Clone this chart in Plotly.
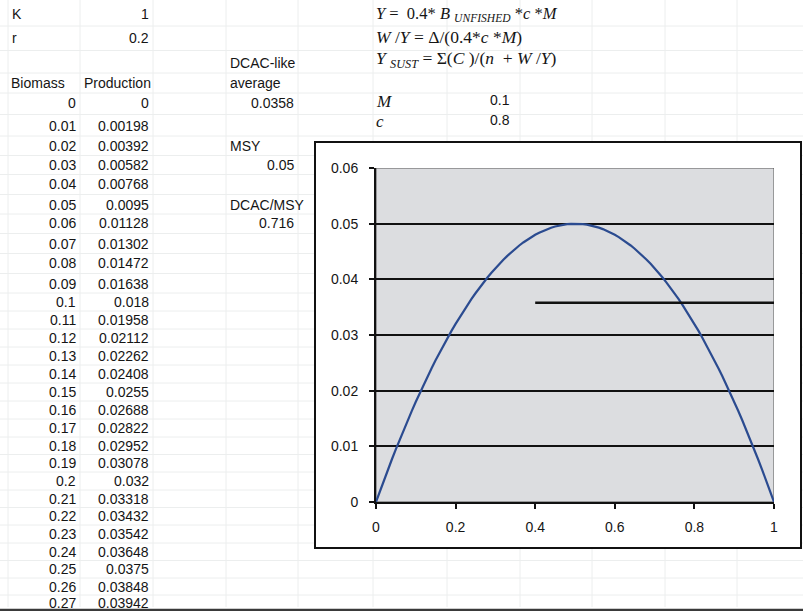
import plotly.graph_objects as go

W, H = 803, 611

# ---------------- data ----------------
K_value = 1
r_value = 0.2
dcac_average = 0.0358
msy = 0.05
dcac_msy = 0.716
M_value = 0.1
c_value = 0.8

biomass = [0, 0.01, 0.02, 0.03, 0.04, 0.05, 0.06, 0.07, 0.08, 0.09, 0.1,
           0.11, 0.12, 0.13, 0.14, 0.15, 0.16, 0.17, 0.18, 0.19, 0.2,
           0.21, 0.22, 0.23, 0.24, 0.25, 0.26, 0.27, 0.28, 0.29, 0.3,
           0.31, 0.32, 0.33, 0.34, 0.35, 0.36, 0.37, 0.38, 0.39, 0.4,
           0.41, 0.42, 0.43, 0.44, 0.45, 0.46, 0.47, 0.48, 0.49, 0.5,
           0.51, 0.52, 0.53, 0.54, 0.55, 0.56, 0.57, 0.58, 0.59, 0.6,
           0.61, 0.62, 0.63, 0.64, 0.65, 0.66, 0.67, 0.68, 0.69, 0.7,
           0.71, 0.72, 0.73, 0.74, 0.75, 0.76, 0.77, 0.78, 0.79, 0.8,
           0.81, 0.82, 0.83, 0.84, 0.85, 0.86, 0.87, 0.88, 0.89, 0.9,
           0.91, 0.92, 0.93, 0.94, 0.95, 0.96, 0.97, 0.98, 0.99, 1]

production = [0, 0.00198, 0.00392, 0.00582, 0.00768, 0.0095, 0.01128, 0.01302, 0.01472, 0.01638, 0.018,
              0.01958, 0.02112, 0.02262, 0.02408, 0.0255, 0.02688, 0.02822, 0.02952, 0.03078, 0.032,
              0.03318, 0.03432, 0.03542, 0.03648, 0.0375, 0.03848, 0.03942, 0.04032, 0.04118, 0.042,
              0.04278, 0.04352, 0.04422, 0.04488, 0.0455, 0.04608, 0.04662, 0.04712, 0.04758, 0.048,
              0.04838, 0.04872, 0.04902, 0.04928, 0.0495, 0.04968, 0.04982, 0.04992, 0.04998, 0.05,
              0.04998, 0.04992, 0.04982, 0.04968, 0.0495, 0.04928, 0.04902, 0.04872, 0.04838, 0.048,
              0.04758, 0.04712, 0.04662, 0.04608, 0.0455, 0.04488, 0.04422, 0.04352, 0.04278, 0.042,
              0.04118, 0.04032, 0.03942, 0.03848, 0.0375, 0.03648, 0.03542, 0.03432, 0.03318, 0.032,
              0.03078, 0.02952, 0.02822, 0.02688, 0.0255, 0.02408, 0.02262, 0.02112, 0.01958, 0.018,
              0.01638, 0.01472, 0.01302, 0.01128, 0.0095, 0.00768, 0.00582, 0.00392, 0.00198, 0]

dcac_x = [0.4, 1]
dcac_y = [dcac_average, dcac_average]

x_ticks = [0, 0.2, 0.4, 0.6, 0.8, 1]
x_tick_labels = ["0", "0.2", "0.4", "0.6", "0.8", "1"]
y_ticks = [0, 0.01, 0.02, 0.03, 0.04, 0.05, 0.06]
y_tick_labels = ["0", "0.01", "0.02", "0.03", "0.04", "0.05", "0.06"]

table_rows_shown = 28

# ---------------- layout helpers ----------------
ARIAL = "Liberation Sans, Arial, sans-serif"
TIMES = "Liberation Serif, Times New Roman, serif"
TXT = "#151515"

annotations = []
shapes = []


def px(x):
    return x / W


def py(y):
    return 1 - y / H


def txt(s, x, y, anchor="left", size=14, family=ARIAL, color=TXT):
    annotations.append(dict(text=s, x=px(x), y=py(y), xref="paper", yref="paper",
                            xanchor=anchor, yanchor="middle", showarrow=False,
                            font=dict(size=size, family=family, color=color)))


def fmt(v):
    return format(v, "g")


# row text centres (pixel)
row_y = [14, 38, 63, 83, 103, 126, 146, 165, 184, 205, 223, 244, 263, 284, 302,
         320, 338, 356, 374, 392, 410, 428, 446, 463, 481, 499, 516, 534, 552,
         569, 587, 603]

# spreadsheet gridlines (faint)
GRID = "#eceeee"
col_x = [8, 80, 153, 226, 298, 373, 447, 520, 592, 665, 737]
for cx in col_x:
    shapes.append(dict(type="line", xref="paper", yref="paper", x0=px(cx), x1=px(cx),
                       y0=py(0), y1=py(607), line=dict(color=GRID, width=1), layer="below"))
bounds = [(row_y[i] + row_y[i + 1]) / 2 for i in range(len(row_y) - 1)]
for b in bounds:
    shapes.append(dict(type="line", xref="paper", yref="paper", x0=0, x1=1,
                       y0=py(b), y1=py(b), line=dict(color=GRID, width=1), layer="below"))

# chart outer box (white, black border)
shapes.append(dict(type="rect", xref="paper", yref="paper", x0=px(315), x1=px(801),
                   y0=py(548), y1=py(142), fillcolor="white",
                   line=dict(color="#111111", width=2), layer="below"))

# bottom dark edge
shapes.append(dict(type="line", xref="paper", yref="paper", x0=0, x1=1,
                   y0=py(610), y1=py(610), line=dict(color="#3a3a3a", width=2.5), layer="below"))

# plot area background
shapes.append(dict(type="rect", xref="x", yref="y", x0=0, x1=1, y0=0, y1=0.06,
                   fillcolor="#dcdde0", line=dict(color="#555555", width=1), layer="below"))

# ---------------- spreadsheet text ----------------
txt("K", 10, row_y[0])
txt(fmt(K_value), 151, row_y[0], "right")
txt("r", 10, row_y[1])
txt(fmt(r_value), 151, row_y[1], "right")
txt("Biomass", 9, row_y[3])
txt("Production", 82, row_y[3])
for i in range(table_rows_shown):
    txt(fmt(biomass[i]), 78, row_y[4 + i], "right")
    txt(fmt(production[i]), 151, row_y[4 + i], "right")

txt("DCAC-like", 228, row_y[2])
txt("average", 228, row_y[3])
txt(fmt(dcac_average), 296, row_y[4], "right")
txt("MSY", 228, row_y[6])
txt(fmt(msy), 296, row_y[7], "right")
txt("DCAC/MSY", 228, row_y[9])
txt(fmt(dcac_msy), 296, row_y[10], "right")

# formulas
txt("<i>Y</i> =  0.4* <i>B</i> <sub><i>UNFISHED</i></sub> *<i>c</i> *<i>M</i>", 374, 14, size=16.5, family=TIMES)
txt("<i>W</i> /<i>Y</i> = Δ/(0.4*<i>c</i> *<i>M</i>)", 374, 37, size=17.5, family=TIMES)
txt("<i>Y</i> <sub><i>SUST</i></sub> = Σ(<i>C</i> )/(<i>n</i>  + <i>W</i> /<i>Y</i>)", 374, 59, size=17.5, family=TIMES)
txt("<i>M</i>", 374, 101, size=17, family=TIMES)
txt(fmt(M_value), 512, 100, "right")
txt("<i>c</i>", 374, 121, size=17, family=TIMES)
txt(fmt(c_value), 512, 120, "right")

# ---------------- chart ----------------
fig = go.Figure()
fig.add_trace(go.Scatter(x=biomass, y=production, mode="lines",
                         line=dict(color="#2b4b90", width=2.2), hoverinfo="skip"))
fig.add_trace(go.Scatter(x=dcac_x, y=dcac_y, mode="lines",
                         line=dict(color="#111111", width=2.5), hoverinfo="skip"))

x0p, x1p = 376, 774
y0p, y1p = 502, 168

fig.update_layout(
    width=W, height=H, template="none",
    margin=dict(l=0, r=0, t=0, b=0),
    paper_bgcolor="white", plot_bgcolor="rgba(0,0,0,0)",
    showlegend=False,
    shapes=shapes, annotations=annotations,
    xaxis=dict(domain=[x0p / W, x1p / W], range=[0, 1], tickvals=x_ticks, ticktext=x_tick_labels,
               showgrid=False, zeroline=False, showline=True, linecolor="#111111", linewidth=2,
               ticks="outside", ticklen=5, tickwidth=2, tickcolor="#111111",
               ticklabelstandoff=6, automargin=False,
               tickfont=dict(family=ARIAL, size=14, color=TXT)),
    yaxis=dict(domain=[1 - y0p / H, 1 - y1p / H], range=[0, 0.06], tickvals=y_ticks, ticktext=y_tick_labels,
               showgrid=True, gridcolor="#111111", gridwidth=2, zeroline=False,
               showline=True, linecolor="#111111", linewidth=2,
               ticks="outside", ticklen=5, tickwidth=2, tickcolor="#111111",
               ticklabelstandoff=8, automargin=False,
               tickfont=dict(family=ARIAL, size=14, color=TXT)),
)

fig.write_html("out.html")
